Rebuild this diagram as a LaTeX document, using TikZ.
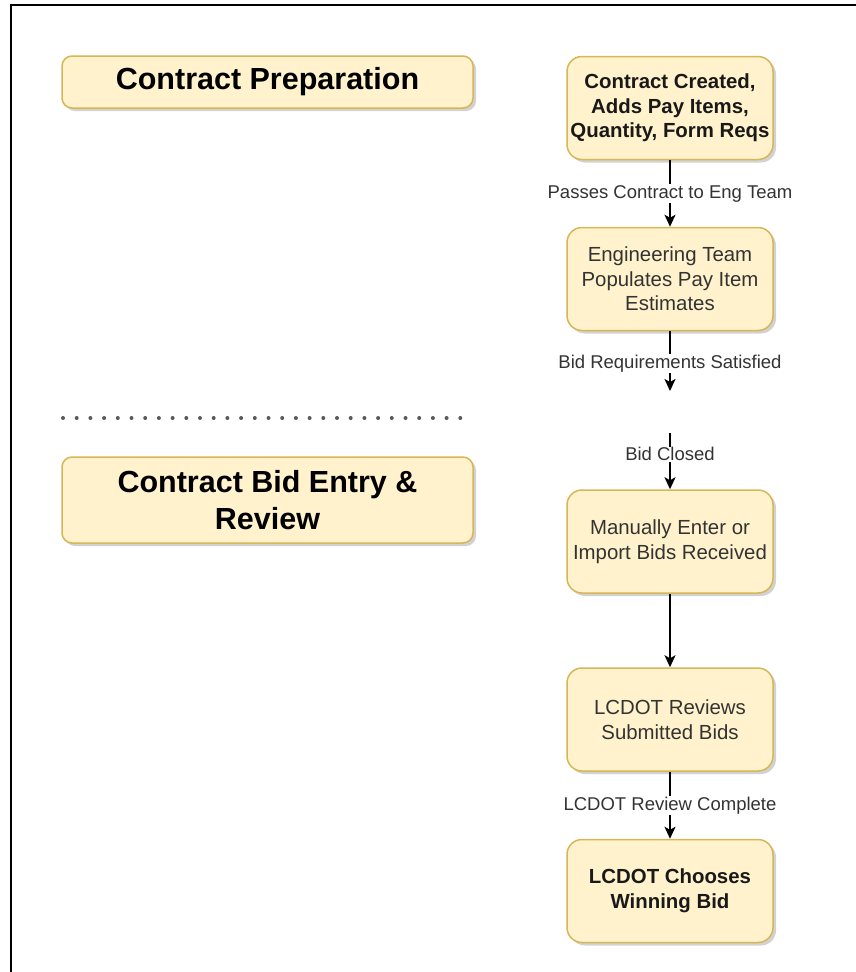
\documentclass[tikz,border=0pt]{standalone}
\usepackage{fontspec}
\setmainfont{Liberation Sans}
\usetikzlibrary{arrows.meta,shadows}
\definecolor{boxfill}{HTML}{FFF2CC}
\definecolor{boxline}{HTML}{D6B656}
\definecolor{textgray}{HTML}{333333}

\begin{document}
\begin{tikzpicture}[
    x=1pt, y=-1pt,
    boxshadow/.style={drop shadow={shadow xshift=3pt, shadow yshift=-3pt, fill=black!35, opacity=0.5}},
    stage/.style={draw=boxline, fill=boxfill, line width=1.5pt, rounded corners=10pt, minimum width=411pt, align=center, text=black, font=\fontsize{30.5}{37.5}\selectfont\bfseries, boxshadow},
    stepbox/.style={draw=boxline, fill=boxfill, line width=1.5pt, rounded corners=15pt, minimum width=206pt, minimum height=103pt, inner sep=2pt, align=center, text=textgray, font=\fontsize{20.4}{24.5}\selectfont, boxshadow},
    keybox/.style={stepbox, text=black!90, font=\fontsize{20.4}{24.5}\selectfont\bfseries},
    flow/.style={-{Stealth[length=12pt, width=11pt, inset=3pt]}, line width=1.7pt, black},
    lbl/.style={fill=white, inner sep=1pt, text=textgray, font=\fontsize{18.5}{22}\selectfont},
    sepline/.style={draw=black!65, line width=4pt, line cap=round, dash pattern=on 0pt off 13.7pt}
  ]
  \useasboundingbox (0,0) rectangle (856,972);

  % frame
  \draw[line width=2pt] (11,972) -- (11,5) -- (856,5);

  % section headings
  \node[stage, minimum height=52pt] (prep) at (267.5,82) {Contract Preparation};
  \node[stage, minimum height=86pt] (entry) at (267.5,500) {Contract Bid Entry \&\\Review};

  % separator
  \coordinate (sepl) at (63,418);
  \coordinate (sepr) at (463,418);
  \draw[sepline] (sepl) -- (sepr);

  % flow - preparation
  \node[keybox] (created) at (670,108) {Contract Created,\\Adds Pay Items,\\Quantity, Form Reqs};
  \node[stepbox] (estimates) at (670,279) {Engineering Team\\Populates Pay Item\\Estimates};
  \coordinate (reqsdone) at (670,391);

  \draw[flow] (created) -- node[lbl] {Passes Contract to Eng Team} (estimates);
  \draw[flow] (estimates) -- node[lbl, pos=0.54] {Bid Requirements Satisfied} (reqsdone);

  % flow - bid entry and review
  \coordinate (bidclosed) at (670,433);
  \node[stepbox] (entered) at (670,541.5) {Manually Enter or\\Import Bids Received};
  \node[stepbox] (reviews) at (670,719.5) {LCDOT Reviews\\Submitted Bids};
  \node[keybox] (winner) at (670,891) {LCDOT Chooses\\Winning Bid};

  \draw[flow] (bidclosed) -- node[lbl, pos=0.38] {Bid Closed} (entered);
  \draw[flow] (entered) -- (reviews);
  \draw[flow] (reviews) -- node[lbl] {LCDOT Review Complete} (winner);

\end{tikzpicture}
\end{document}
